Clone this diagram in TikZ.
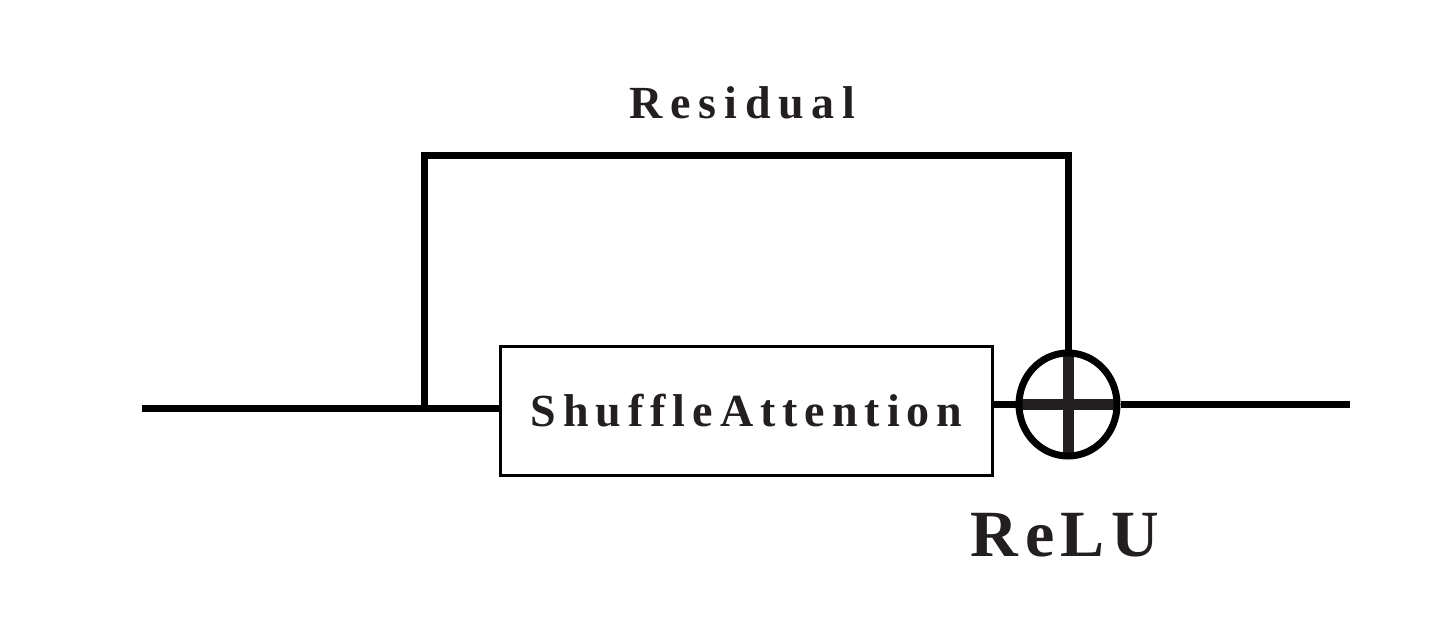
\documentclass[tikz,border=0pt]{standalone}
\usepackage{fontspec}
\setmainfont{Liberation Serif}
\usetikzlibrary{shapes.geometric,calc}
\definecolor{ink}{HTML}{231F20}
\newcommand{\rsgap}{\kern7.7pt}
\newcommand{\sagap}{\kern7.0pt}
\newcommand{\rlgap}{\kern6.5pt}
\tikzset{
  wire/.style={draw=black, line width=7pt},
  blockbox/.style={draw=black, line width=3pt, fill=white, inner sep=0pt,
    minimum width=491.5pt, minimum height=129pt, text=ink,
    font=\bfseries\fontsize{46}{52}\selectfont},
  addnode/.style={ellipse, draw=black, line width=7pt, fill=white, inner sep=0pt,
    minimum width=98pt, minimum height=103pt,
    path picture={
      \draw[ink, line width=11pt] (path picture bounding box.north) -- (path picture bounding box.south);
      \draw[ink, line width=11pt] (path picture bounding box.west) -- (path picture bounding box.east);
    }},
  lbl/.style={text=ink, inner sep=0pt, anchor=base}
}
\begin{document}
\begin{tikzpicture}[x=1pt,y=-1pt]
\useasboundingbox (0,0) rectangle (1456,631);
\coordinate (in) at (142,408.5);
\coordinate (split) at (424.5,408.5);
\node[blockbox] (sa) at (746.5,410.5) {S\sagap h\sagap u\sagap f\sagap f\sagap l\sagap e\sagap A\sagap t\sagap t\sagap e\sagap n\sagap t\sagap i\sagap o\sagap n};
\node[addnode] (add) at (1068,404.5) {};
\coordinate (top) at (1068,155.5);
\coordinate (out) at (1350,404.5);
\draw[wire] (in) -- (split) -- (split -| sa.west);
\draw[wire] (split) -- (split |- top) -- (top) -- (add.north);
\draw[wire] (sa.east |- add) -- (add.west);
\draw[wire] (add.east) -- (out);
\node[lbl, font=\bfseries\fontsize{46}{52}\selectfont] (res) at (742.5,119) {R\rsgap e\rsgap s\rsgap i\rsgap d\rsgap u\rsgap a\rsgap l};
\node[lbl, font=\bfseries\fontsize{66}{74}\selectfont] (relu) at (1065,556) {R\rlgap e\rlgap L\rlgap U};
\end{tikzpicture}
\end{document}
